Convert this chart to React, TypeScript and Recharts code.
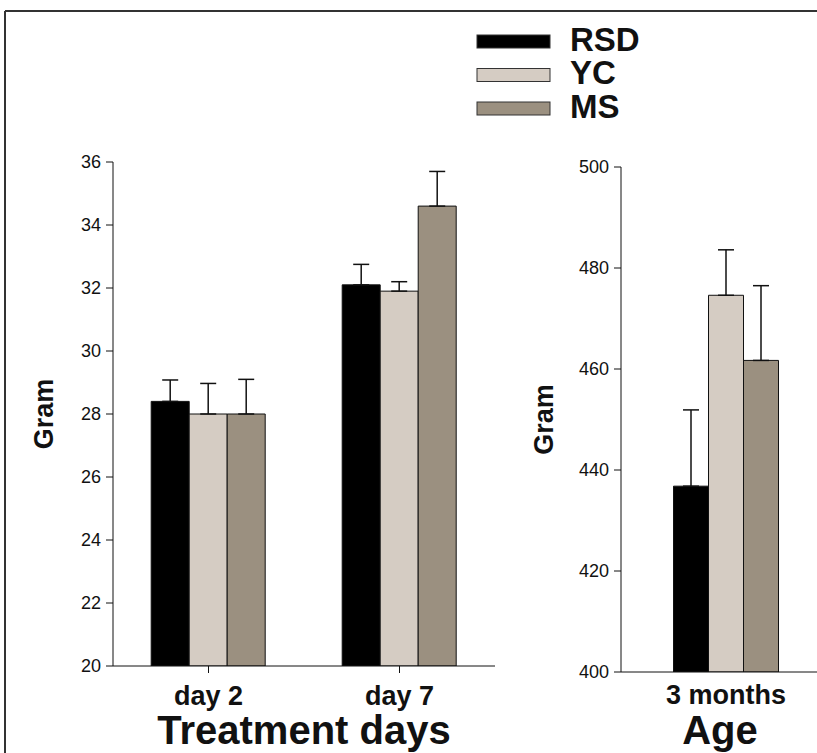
import { BarChart, Bar, XAxis, YAxis, ErrorBar } from 'recharts';

const treatmentDays = ['day 2', 'day 7'];
const rsdDays = [28.4, 32.1];
const rsdDaysErr = [0.68, 0.65];
const ycDays = [28.0, 31.9];
const ycDaysErr = [0.97, 0.3];
const msDays = [28.0, 34.6];
const msDaysErr = [1.1, 1.1];
const dayTicks = [20, 22, 24, 26, 28, 30, 32, 34, 36];

const ages = ['3 months'];
const rsdAge = [436.8];
const rsdAgeErr = [15.1];
const ycAge = [474.6];
const ycAgeErr = [9.0];
const msAge = [461.7];
const msAgeErr = [14.8];
const ageTicks = [400, 420, 440, 460, 480, 500];

const series = [
  { key: 'rsd', name: 'RSD', color: '#000000' },
  { key: 'yc', name: 'YC', color: '#d5ccc3' },
  { key: 'ms', name: 'MS', color: '#9b9080' },
];

const ink = '#111';
const font = '"Liberation Sans", Arial, sans-serif';

// only the upper half of the error bar is drawn
const upOnly = (e: number) => [0, e];

const dayData = treatmentDays.map((name, i) => ({
  name,
  rsd: rsdDays[i],
  rsdErr: upOnly(rsdDaysErr[i]),
  yc: ycDays[i],
  ycErr: upOnly(ycDaysErr[i]),
  ms: msDays[i],
  msErr: upOnly(msDaysErr[i]),
}));

const ageData = ages.map((name, i) => ({
  name,
  rsd: rsdAge[i],
  rsdErr: upOnly(rsdAgeErr[i]),
  yc: ycAge[i],
  ycErr: upOnly(ycAgeErr[i]),
  ms: msAge[i],
  msErr: upOnly(msAgeErr[i]),
}));

const numTick = { fontSize: 18, fill: ink, fontFamily: font };
const catTick = { fontSize: 27, fontWeight: 'bold', fill: ink, fontFamily: font };
const gramStyle = { textAnchor: 'middle', fontSize: 27, fontWeight: 'bold', fill: ink, fontFamily: font };
const titleStyle = { fontSize: 40, fontWeight: 'bold', fill: ink, fontFamily: font };

function renderBars() {
  return series.map((s) => (
    <Bar key={s.key} dataKey={s.key} fill={s.color} stroke={ink} strokeWidth={1} isAnimationActive={false}>
      <ErrorBar
        dataKey={`${s.key}Err`}
        width={8}
        stroke={ink}
        strokeWidth={1.5}
        direction="y"
        isAnimationActive={false}
      />
    </Bar>
  ));
}

function Legend() {
  return (
    <svg width={817} height={753} style={{ position: 'absolute', left: 0, top: 0, pointerEvents: 'none' }}>
      <line x1={5} y1={11} x2={817} y2={11} stroke="#333" strokeWidth={2} />
      <line x1={5} y1={11} x2={5} y2={753} stroke="#333" strokeWidth={2} />
      {series.map((s, i) => {
        const top = 35 + i * 33.5;
        return (
          <g key={s.key}>
            <rect x={477} y={top} width={73} height={13} fill={s.color} stroke="#333" strokeWidth={1} />
            <text x={570} y={top + 15.5} fontSize={33} fontWeight="bold" fill={ink} fontFamily={font}>
              {s.name}
            </text>
          </g>
        );
      })}
    </svg>
  );
}

export default function App() {
  return (
    <div
      style={{
        position: 'absolute',
        left: 0,
        top: 0,
        width: 817,
        height: 753,
        overflow: 'hidden',
        background: '#fff',
        fontFamily: font,
      }}
    >
      <div style={{ position: 'absolute', left: 0, top: 0 }}>
        <BarChart
          width={520}
          height={753}
          data={dayData}
          margin={{ top: 162, right: 25, bottom: 0, left: 0 }}
          barCategoryGap="20%"
          barGap={0}
        >
          <XAxis
            dataKey="name"
            height={87}
            tickSize={7}
            tickMargin={13}
            axisLine={{ stroke: ink }}
            tickLine={{ stroke: ink }}
            tick={catTick}
            label={{ value: 'Treatment days', position: 'insideBottom', offset: 9, style: titleStyle }}
          />
          <YAxis
            domain={[20, 36]}
            ticks={dayTicks}
            interval={0}
            allowDataOverflow
            width={113}
            tickSize={7}
            tickMargin={5}
            axisLine={{ stroke: ink }}
            tickLine={{ stroke: ink }}
            tick={numTick}
            label={{ value: 'Gram', angle: -90, position: 'insideLeft', offset: 43, style: gramStyle }}
          />
          {renderBars()}
        </BarChart>
      </div>
      <div style={{ position: 'absolute', left: 500, top: 0 }}>
        <BarChart
          width={331}
          height={753}
          data={ageData}
          margin={{ top: 167, right: 0, bottom: 0, left: 0 }}
          barCategoryGap="25%"
          barGap={0}
        >
          <XAxis
            dataKey="name"
            height={81}
            tickSize={0}
            tickMargin={13}
            axisLine={{ stroke: ink }}
            tickLine={false}
            tick={catTick}
            label={{ value: 'Age', position: 'insideBottom', offset: 9, dx: -6, style: titleStyle }}
          />
          <YAxis
            domain={[400, 500]}
            ticks={ageTicks}
            interval={0}
            allowDataOverflow
            width={121}
            tickSize={7}
            tickMargin={5}
            axisLine={{ stroke: ink }}
            tickLine={{ stroke: ink }}
            tick={numTick}
            label={{ value: 'Gram', angle: -90, position: 'insideLeft', offset: 43, style: gramStyle }}
          />
          {renderBars()}
        </BarChart>
      </div>
      <Legend />
    </div>
  );
}
